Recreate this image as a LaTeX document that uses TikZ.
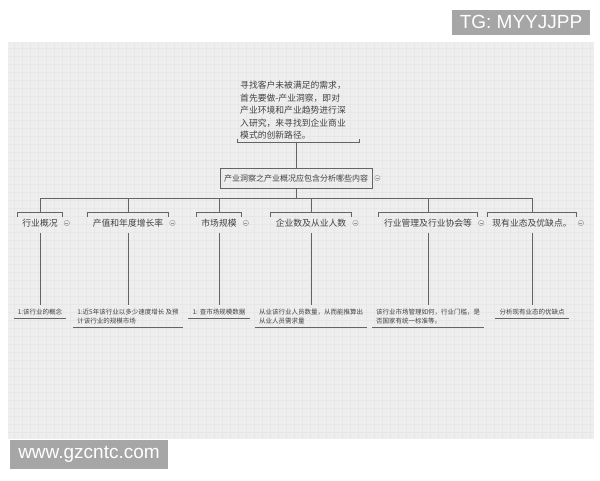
\documentclass[tikz,border=0pt]{standalone}
\usepackage{fontspec}
\newfontfamily\cjk{Noto Sans CJK SC}
\newfontfamily\wm{Liberation Sans}
\definecolor{panel}{RGB}{238,238,238}
\definecolor{gridc}{RGB}{231,231,231}
\definecolor{ink}{RGB}{65,65,65}
\definecolor{lin}{RGB}{100,100,100}
\definecolor{wmgray}{RGB}{166,166,166}
\definecolor{icon}{RGB}{150,150,150}
\begin{document}
\begin{tikzpicture}[x=1pt,y=-1pt,
  conn/.style={draw=lin, line width=0.7pt},
  toptext/.style={font=\cjk\fontsize{8.8}{12.5}\selectfont, text=ink, align=left, inner xsep=3pt, inner ysep=3pt, text width=116pt},
  mainbox/.style={draw=lin, line width=0.7pt, font=\cjk\fontsize{8}{10}\selectfont, text=ink, minimum height=20pt, inner xsep=4pt},
  child/.style={font=\cjk\fontsize{8.8}{10}\selectfont, text=ink, minimum height=20pt, inner xsep=5pt},
  leaf/.style={font=\cjk\fontsize{6.5}{9.5}\selectfont, text=ink, align=left, inner xsep=4pt, inner ysep=3.5pt, anchor=north},
  under/.style={draw=lin, line width=0.9pt},
  bracket/.style={draw=lin, line width=0.7pt},
  collapse/.style={circle, draw=icon, line width=0.4pt, minimum size=5.5pt, inner sep=0pt,
    path picture={\draw[icon, line width=0.4pt] ([xshift=-1.6pt]path picture bounding box.center) -- ([xshift=1.6pt]path picture bounding box.center);}},
  wmbox/.style={fill=wmgray, text=white, font=\wm\fontsize{19}{21}\selectfont, inner sep=0pt}
]
\useasboundingbox (0,0) rectangle (600,480);
\fill[white] (0,0) rectangle (600,480);
\fill[panel] (8,42) rectangle (594,439);
\foreach \x in {14,22,...,594} \draw[gridc, line width=0.3pt] (\x,42) -- (\x,439);
\foreach \y in {48,56,...,439} \draw[gridc, line width=0.3pt] (8,\y) -- (594,\y);

% top text
\node[toptext, anchor=north west] (top) at (237,78) {寻找客户未被满足的需求，\\首先要做-产业洞察，即对\\产业环境和产业趋势进行深\\入研究，来寻找到企业商业\\模式的创新路径。};
\draw[bracket] ([yshift=4pt]top.south west) -- (top.south west) -- (top.south east) -- ([yshift=4pt]top.south east);

% main box
\node[mainbox] (box) at (296,178) {产业洞察之产业概况应包含分析哪些内容};
\node[collapse] (ibox) at ([xshift=5pt]box.east) {};
\draw[conn] (box.north |- top.south) -- (box.north);

% bus
\coordinate (bus) at (296,198);
\draw[conn] (box.south) -- (bus);

% children
\node[child] (c1) at (40,223) {行业概况};
\node[child] (c2) at (128,223) {产值和年度增长率};
\node[child] (c3) at (219,223) {市场规模};
\node[child] (c4) at (311,223) {企业数及从业人数};
\node[child] (c5) at (428,223) {行业管理及行业协会等};
\node[child] (c6) at (532,223) {现有业态及优缺点。};

\draw[conn] (c1.north |- bus) -- (c6.north |- bus);
\foreach \c in {c1,c2,c3,c4,c5,c6}{
  \draw[conn] (\c.north |- bus) -- (\c.north);
  \draw[bracket] ([yshift=-4pt]\c.north west) -- (\c.north west) -- (\c.north east) -- ([yshift=-4pt]\c.north east);
  \node[collapse] (i\c) at ([xshift=4pt]\c.east) {};
}

% leaves
\node[leaf] (l1) at (40,305) {1:该行业的概念};
\node[leaf] (l2) at (128,305) {1:近5年该行业以多少速度增长 及预\\计该行业的规模市场};
\node[leaf] (l3) at (219,305) {1: 查市场规模数据};
\node[leaf] (l4) at (311,305) {从业该行业人员数量，从而能推算出\\从业人员需求量};
\node[leaf] (l5) at (428,305) {该行业市场管理如何，行业门槛，是\\否国家有统一标准等。};
\node[leaf] (l6) at (532,305) {分析现有业态的优缺点};

\foreach \i in {1,...,6}{
  \draw[conn] (c\i.south) -- (l\i.north);
  \draw[under] (l\i.south west) -- (l\i.south east);
}

% watermarks
\node[wmbox, minimum width=138pt, minimum height=25pt] (tg) at (521,22) {TG: MYYJJPP};
\node[wmbox, minimum width=158pt, minimum height=29pt] (www) at (89,454.5) {www.gzcntc.com};
\end{tikzpicture}
\end{document}
